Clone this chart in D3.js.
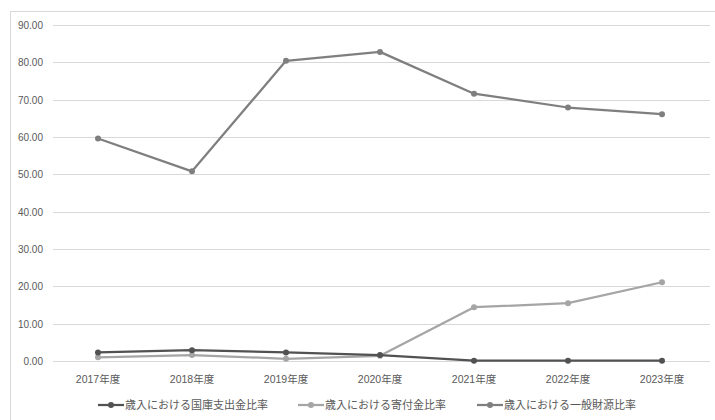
<!DOCTYPE html>
<html>
<head>
<meta charset="utf-8">
<script src="https://cdn.jsdelivr.net/npm/d3@7"></script>
<style>
  html, body { margin: 0; padding: 0; background: #fff; }
  svg { display: block; }
  text { font-family: "Liberation Sans", "Noto Sans CJK JP", sans-serif; fill: #595959; }
  .jp { font-family: "Noto Sans CJK JP", sans-serif; }
</style>
</head>
<body>
<svg id="chart" width="715" height="420"></svg>
<script>
// Fiscal years and revenue ratios (%)
const years = ["2017年度", "2018年度", "2019年度", "2020年度", "2021年度", "2022年度", "2023年度"];
const treasuryRatio = [2.3, 2.9, 2.3, 1.6, 0.1, 0.1, 0.1];
const donationRatio = [1.0, 1.6, 0.6, 1.4, 14.4, 15.5, 21.1];
const generalFundRatio = [59.6, 50.8, 80.4, 82.8, 71.6, 67.9, 66.1];
const yTicks = [0, 10, 20, 30, 40, 50, 60, 70, 80, 90];

const seriesNames = ["歳入における国庫支出金比率", "歳入における寄付金比率", "歳入における一般財源比率"];
const seriesValues = [treasuryRatio, donationRatio, generalFundRatio];
const seriesColors = ["#525252", "#a5a5a5", "#7f7f7f"];

const svg = d3.select("#chart");

// Outer chart frame
svg.append("rect")
  .attr("x", 10.5).attr("y", 11.5)
  .attr("width", 720).attr("height", 420)
  .attr("fill", "none").attr("stroke", "#d9d9d9").attr("stroke-width", 1);

const x = d3.scaleBand().domain(years).range([51, 709]);
const y = d3.scaleLinear().domain([0, 90]).range([361, 25]);

// Horizontal gridlines
svg.append("g")
  .selectAll("line")
  .data(yTicks)
  .join("line")
  .attr("x1", 53).attr("x2", 710)
  .attr("y1", d => Math.round(y(d)) + 0.5)
  .attr("y2", d => Math.round(y(d)) + 0.5)
  .attr("stroke", "#d9d9d9").attr("stroke-width", 1);

// Y-axis labels
const yAxis = d3.axisLeft(y).tickValues(yTicks).tickFormat(d3.format(".2f")).tickSize(0).tickPadding(0);
svg.append("g")
  .attr("transform", "translate(43,0)")
  .call(yAxis)
  .call(g => g.select(".domain").remove())
  .call(g => g.selectAll("text")
    .attr("fill", "#595959")
    .style("font-family", "'Liberation Sans', sans-serif")
    .style("font-size", "10px")
    .attr("dy", "0.35em"));

// X-axis labels
const xAxis = d3.axisBottom(x).tickSize(0).tickPadding(0);
svg.append("g")
  .attr("transform", "translate(0,379)")
  .call(xAxis)
  .call(g => g.select(".domain").remove())
  .call(g => g.selectAll("text")
    .attr("fill", "#595959")
    .style("font-family", "'Liberation Sans', 'Noto Sans CJK JP', sans-serif")
    .style("font-size", "10.5px")
    .attr("dy", "0.35em"));

const cx = d => x(d) + x.bandwidth() / 2;
const line = d3.line().x((d, i) => cx(years[i])).y(d => y(d));

// Draw series back to front: general fund, donation, treasury
[2, 1, 0].forEach(s => {
  const g = svg.append("g");
  g.append("path")
    .datum(seriesValues[s])
    .attr("d", line)
    .attr("fill", "none")
    .attr("stroke", seriesColors[s])
    .attr("stroke-width", 2.25)
    .attr("stroke-linejoin", "round");
  g.selectAll("circle")
    .data(seriesValues[s])
    .join("circle")
    .attr("cx", (d, i) => cx(years[i]))
    .attr("cy", d => y(d))
    .attr("r", 3)
    .attr("fill", seriesColors[s]);
});

// Legend
const legendX = [98, 298, 477];
const legend = svg.append("g");
seriesNames.forEach((name, i) => {
  const lg = legend.append("g").attr("transform", `translate(${legendX[i]},405)`);
  lg.append("line").attr("x1", 0).attr("x2", 26).attr("y1", 0).attr("y2", 0)
    .attr("stroke", seriesColors[i]).attr("stroke-width", 2.25);
  lg.append("circle").attr("cx", 13).attr("cy", 0).attr("r", 3).attr("fill", seriesColors[i]);
  lg.append("text").attr("class", "jp").attr("x", 27).attr("y", 0).attr("dy", "0.35em")
    .style("font-size", "11px").attr("fill", "#595959")
    .text(name);
});
</script>
</body>
</html>
